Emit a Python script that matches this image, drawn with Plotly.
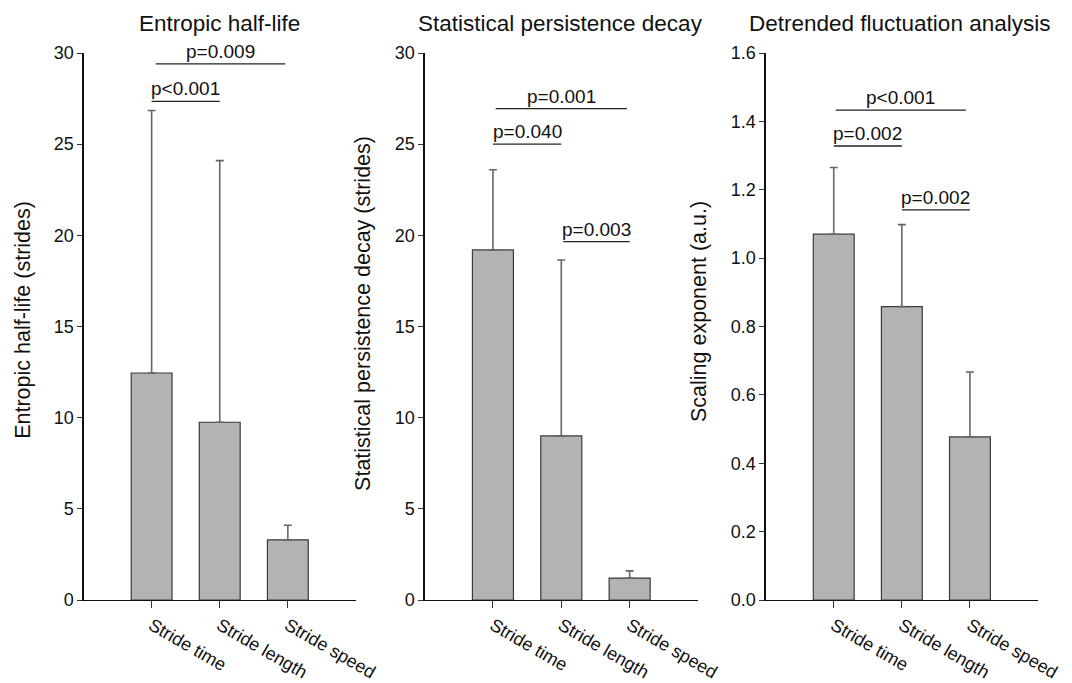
import plotly.graph_objects as go

categories = ["Stride time", "Stride length", "Stride speed"]

# Panel 1: Entropic half-life
entropic_mean = [12.45, 9.75, 3.3]
entropic_sd = [14.4, 14.35, 0.8]
# Panel 2: Statistical persistence decay
persist_mean = [19.2, 9.0, 1.2]
persist_sd = [4.4, 9.65, 0.4]
# Panel 3: DFA scaling exponent
dfa_mean = [1.07, 0.858, 0.477]
dfa_sd = [0.195, 0.24, 0.19]

panel_titles = ["Entropic half-life", "Statistical persistence decay", "Detrended fluctuation analysis"]
y_titles = ["Entropic half-life (strides)", "Statistical persistence decay (strides)", "Scaling exponent (a.u.)"]
y_ranges = [[0, 30], [0, 30], [0, 1.6]]
y_dticks = [5, 5, 0.2]

# significance brackets per panel: start category, end category, height, label
br1_x0 = [0, 0.06]; br1_x1 = [1, 1.96]; br1_y = [27.35, 29.4]; br1_lab = ["p<0.001", "p=0.009"]
br2_x0 = [0, 0.04, 1.03]; br2_x1 = [1, 1.96, 2.0]; br2_y = [25.0, 26.95, 19.65]; br2_lab = ["p=0.040", "p=0.001", "p=0.003"]
br3_x0 = [0, 0.03, 1]; br3_x1 = [1, 1.94, 2]; br3_y = [1.328, 1.433, 1.141]; br3_lab = ["p=0.002", "p<0.001", "p=0.002"]

means = [entropic_mean, persist_mean, dfa_mean]
sds = [entropic_sd, persist_sd, dfa_sd]
brackets = [(br1_x0, br1_x1, br1_y, br1_lab), (br2_x0, br2_x1, br2_y, br2_lab), (br3_x0, br3_x1, br3_y, br3_lab)]

W, H = 1072, 683
# the captured picture is slightly scaled/offset relative to the page; compensate
SX, SY, AY = 1055 / 1072, 663 / 683, 9.0
def dx(px):
    return px / SX
def dy(px):
    return (px - AY) / SY

x_dom_px = [(84, 358), (427, 702), (770, 1044)]
y_dom = [1 - dy(599) / H, 1 - dy(52) / H]
ytitle_px = [(23, 319), (365, 312), (703, 311)]
title_cx_px = [221, 564, 905]

FONT = "Arial, Liberation Sans, sans-serif"
fig = go.Figure()
annotations = []
layout = {}
for i in range(3):
    xa = "x" if i == 0 else f"x{i+1}"
    ya = "y" if i == 0 else f"y{i+1}"
    xpos = list(range(len(categories)))
    fig.add_trace(go.Bar(
        x=xpos, y=means[i], width=0.6, xaxis=xa, yaxis=ya,
        marker=dict(color="#b3b3b3", line=dict(color="#3a3a3a", width=1.2)),
        error_y=dict(type="data", symmetric=False, array=sds[i], arrayminus=[0] * len(sds[i]),
                     color="#666666", thickness=1.6, width=4),
        showlegend=False, hoverinfo="skip",
    ))
    bx0, bx1, by, blab = brackets[i]
    for a, b, h, lab in zip(bx0, bx1, by, blab):
        fig.add_trace(go.Scatter(x=[a, b], y=[h, h], mode="lines", xaxis=xa, yaxis=ya,
                                 line=dict(color="#222222", width=1.3), showlegend=False, hoverinfo="skip"))
        annotations.append(dict(x=(a + b) / 2, y=h, xref=xa, yref=ya, text=lab, showarrow=False,
                                yanchor="bottom", yshift=0, font=dict(family=FONT, size=19, color="#111111")))
    x0, x1 = x_dom_px[i]
    layout["xaxis" if i == 0 else f"xaxis{i+1}"] = dict(
        domain=[dx(x0) / W, min(dx(x1) / W, 1.0)], range=[-1, 3], tickvals=xpos, ticktext=categories,
        tickangle=30,
        showline=True, linecolor="#111111", linewidth=1.2, ticks="outside", ticklen=7, tickcolor="#333333",
        showgrid=False, zeroline=False, anchor=ya, fixedrange=True,
        tickfont=dict(family=FONT, size=18, color="#111111"))
    layout["yaxis" if i == 0 else f"yaxis{i+1}"] = dict(
        domain=y_dom, range=y_ranges[i], dtick=y_dticks[i],
        tickformat=".1f" if i == 2 else "d",
        showline=True, linecolor="#111111", linewidth=1.2, ticks="outside", ticklen=5, tickcolor="#333333",
        showgrid=False, zeroline=False, anchor=xa, fixedrange=True,
        tickfont=dict(family=FONT, size=18, color="#111111"))
    annotations.append(dict(x=dx(title_cx_px[i]) / W, y=1 - dy(22) / H, xref="paper", yref="paper",
                            text=panel_titles[i], showarrow=False, xanchor="center", yanchor="middle",
                            font=dict(family=FONT, size=22.5, color="#111111")))
    tx, ty = ytitle_px[i]
    annotations.append(dict(x=dx(tx) / W, y=1 - dy(ty) / H, xref="paper", yref="paper", text=y_titles[i],
                            showarrow=False, textangle=-90, xanchor="center", yanchor="middle",
                            font=dict(family=FONT, size=21.5, color="#111111")))

fig.update_layout(
    width=W, height=H, margin=dict(l=0, r=0, t=0, b=0),
    paper_bgcolor="white", plot_bgcolor="white", hovermode=False,
    annotations=annotations, **layout,
)
fig.write_html(
    "out.html",
    config={"displayModeBar": False, "staticPlot": True},
    post_script=(
        "document.documentElement.style.margin='0';document.body.style.margin='0';"
        "document.body.style.overflow='hidden';document.documentElement.style.overflow='hidden';"
        "var gd=document.getElementById('{plot_id}');"
        "gd.style.position='fixed';gd.style.top='0px';gd.style.left='0px';"
    ),
)
